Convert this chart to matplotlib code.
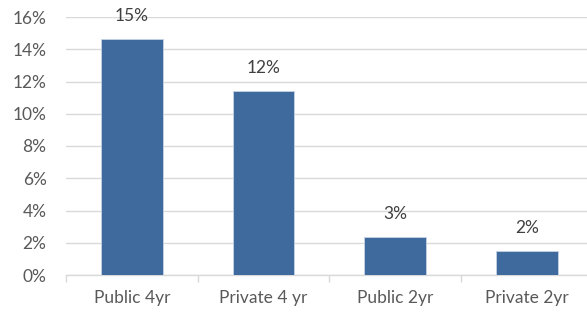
import matplotlib.pyplot as plt
from matplotlib.ticker import FixedLocator, PercentFormatter

categories = ['Public 4yr', 'Private 4 yr', 'Public 2yr', 'Private 2yr']
values = [0.1465, 0.1139, 0.0238, 0.0149]
labels = ['15%', '12%', '3%', '2%']

plt.rcParams['font.family'] = ['Lato', 'DejaVu Sans']
text_color = '#595959'
grid_color = '#D9D9D9'
fs = 12.5

fig = plt.figure(figsize=(5.87, 3.13), dpi=100)
ax = fig.add_axes([66 / 587, 1 - 275 / 313, 1 - 66 / 587, (275 - 17) / 313])

x = list(range(len(categories)))
bars = ax.bar(x, values, width=0.47, color='#3E6A9E', edgecolor='#C5D3E6', linewidth=0.6, zorder=3)

for xi, v, lab in zip(x, values, labels):
    ax.annotate(lab, (xi, v), xytext=(0, 16.5), textcoords='offset points',
                ha='center', va='center', fontsize=fs, color='#404040')

ax.set_ylim(0, 0.16)
ax.set_xlim(-0.5, -0.5 + (587 - 66) / 131.7)
ax.set_yticks([i * 0.02 for i in range(9)])
ax.yaxis.set_major_formatter(PercentFormatter(1.0, decimals=0))
ax.set_xticks(x)
ax.set_xticklabels(categories)
ax.xaxis.set_minor_locator(FixedLocator([-0.5, 0.5, 1.5, 2.5, 3.5]))

ax.grid(axis='y', color=grid_color, linewidth=1, zorder=0)
for s in ['top', 'right', 'left']:
    ax.spines[s].set_visible(False)
ax.spines['bottom'].set_color(grid_color)
ax.spines['bottom'].set_linewidth(1)

ax.tick_params(axis='y', length=0, pad=14, labelsize=fs, labelcolor=text_color)
ax.tick_params(axis='x', which='major', length=0, pad=11, labelsize=fs, labelcolor=text_color)
ax.tick_params(axis='x', which='minor', length=5, color=grid_color, width=1)

fig.savefig('out.png', dpi=100)
